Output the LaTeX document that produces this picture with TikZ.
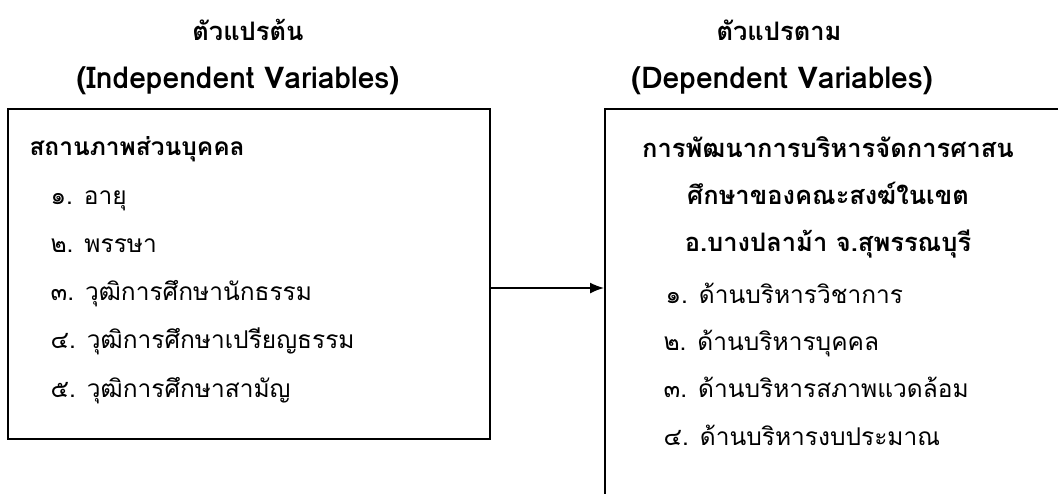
\documentclass[tikz,border=0pt]{standalone}
\usepackage{fontspec}
\setmainfont{Loma}[Script=Thai]
\usetikzlibrary{positioning,arrows.meta}
\newcommand{\bodysize}{\fontsize{24.5}{28}\selectfont}
\newcommand{\headsize}{\fontsize{25.5}{30}\selectfont}
\tikzset{
  varbox/.style={draw, line width=1.5pt, rectangle, anchor=north west},
  head/.style={font=\headsize\bfseries, anchor=base},
  engline/.style={font=\fontsize{30}{34}\selectfont\bfseries, anchor=base},
  item/.style={font=\bodysize, anchor=base west},
}
\begin{document}
\begin{tikzpicture}[x=1pt,y=-1pt]
                \useasboundingbox (0,0) rectangle (1058,493);
                \clip (0,0) rectangle (1058,493);
                \node[head] (ivhead) at (248,40) {ตัวแปรต้น};
                \node[engline] (iveng) at (238,88) {(Independent Variables)};
                \node[head] (dvhead) at (779,40) {ตัวแปรตาม};
                \node[engline] (dveng) at (782,88) {(Dependent Variables)};
                \node[varbox, minimum width=482pt, minimum height=330pt] (indep) at (7,108) {};
                \node[varbox, minimum width=480pt, minimum height=420pt] (dep) at (604,108) {};
                \node[item, font=\bodysize\bfseries] (ivtitle) at (26,155) {สถานภาพส่วนบุคคล};
                \node[item] (iv1) at (47,204) {๑. อายุ};
                \node[item] (iv2) at (47,252) {๒. พรรษา};
                \node[item] (iv3) at (47,300) {๓. วุฒิการศึกษานักธรรม};
                \node[item] (iv4) at (47,348) {๔. วุฒิการศึกษาเปรียญธรรม};
                \node[item] (iv5) at (47,397) {๕. วุฒิการศึกษาสามัญ};
                \node[head] (dvtitle1) at (828,157) {การพัฒนาการบริหารจัดการศาสน};
                \node[head] (dvtitle2) at (828,204) {ศึกษาของคณะสงฆ์ในเขต};
                \node[head] (dvtitle3) at (828,251) {อ.บางปลาม้า จ.สุพรรณบุรี};
                \node[item] (dv1) at (662,303) {๑. ด้านบริหารวิชาการ};
                \node[item] (dv2) at (660,350) {๒. ด้านบริหารบุคคล};
                \node[item] (dv3) at (660,397) {๓. ด้านบริหารสภาพแวดล้อม};
                \node[item] (dv4) at (660,445) {๔. ด้านบริหารงบประมาณ};
                \coordinate (link) at (0,288);
                \draw[line width=1.5pt,-{Latex[length=14pt,width=11pt]}] (indep.east |- link)--(dep.west |- link);
\end{tikzpicture}
\end{document}
